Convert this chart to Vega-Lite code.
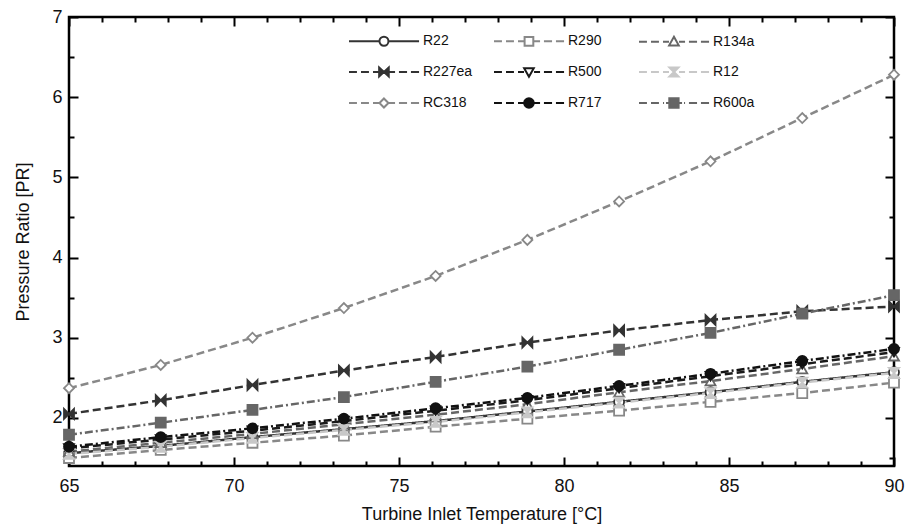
{
  "$schema": "https://vega.github.io/schema/vega-lite/v6.json",
  "width": 825,
  "height": 449,
  "autosize": {"type": "none"},
  "padding": {"left": 69, "top": 17, "right": 12, "bottom": 64},
  "background": "white",
  "config": {
    "view": {"stroke": "#000000", "strokeWidth": 2.5},
    "font": "Liberation Sans",
    "axis": {
      "domain": false,
      "ticks": false,
      "gridColor": "#000000",
      "gridWidth": 2,
      "gridOpacity": 1,
      "labelFont": "Liberation Sans",
      "labelFontSize": 18,
      "labelColor": "#111111",
      "titleFont": "Liberation Sans",
      "titleFontSize": 18,
      "titleFontWeight": "normal",
      "titleColor": "#111111"
    }
  },
  "data": {
    "values": [
      {"refrigerant": "R22", "T": 65, "PR": 1.56}, {"refrigerant": "R22", "T": 67.78, "PR": 1.65}, {"refrigerant": "R22", "T": 70.56, "PR": 1.76}, {"refrigerant": "R22", "T": 73.33, "PR": 1.86}, {"refrigerant": "R22", "T": 76.11, "PR": 1.96}, {"refrigerant": "R22", "T": 78.89, "PR": 2.08}, {"refrigerant": "R22", "T": 81.67, "PR": 2.20}, {"refrigerant": "R22", "T": 84.44, "PR": 2.32}, {"refrigerant": "R22", "T": 87.22, "PR": 2.45}, {"refrigerant": "R22", "T": 90, "PR": 2.57},
      {"refrigerant": "R290", "T": 65, "PR": 1.50}, {"refrigerant": "R290", "T": 67.78, "PR": 1.60}, {"refrigerant": "R290", "T": 70.56, "PR": 1.69}, {"refrigerant": "R290", "T": 73.33, "PR": 1.78}, {"refrigerant": "R290", "T": 76.11, "PR": 1.89}, {"refrigerant": "R290", "T": 78.89, "PR": 1.99}, {"refrigerant": "R290", "T": 81.67, "PR": 2.09}, {"refrigerant": "R290", "T": 84.44, "PR": 2.20}, {"refrigerant": "R290", "T": 87.22, "PR": 2.31}, {"refrigerant": "R290", "T": 90, "PR": 2.44},
      {"refrigerant": "R134a", "T": 65, "PR": 1.58}, {"refrigerant": "R134a", "T": 67.78, "PR": 1.69}, {"refrigerant": "R134a", "T": 70.56, "PR": 1.80}, {"refrigerant": "R134a", "T": 73.33, "PR": 1.92}, {"refrigerant": "R134a", "T": 76.11, "PR": 2.04}, {"refrigerant": "R134a", "T": 78.89, "PR": 2.17}, {"refrigerant": "R134a", "T": 81.67, "PR": 2.32}, {"refrigerant": "R134a", "T": 84.44, "PR": 2.46}, {"refrigerant": "R134a", "T": 87.22, "PR": 2.61}, {"refrigerant": "R134a", "T": 90, "PR": 2.77},
      {"refrigerant": "R227ea", "T": 65, "PR": 2.05}, {"refrigerant": "R227ea", "T": 67.78, "PR": 2.22}, {"refrigerant": "R227ea", "T": 70.56, "PR": 2.41}, {"refrigerant": "R227ea", "T": 73.33, "PR": 2.59}, {"refrigerant": "R227ea", "T": 76.11, "PR": 2.76}, {"refrigerant": "R227ea", "T": 78.89, "PR": 2.94}, {"refrigerant": "R227ea", "T": 81.67, "PR": 3.09}, {"refrigerant": "R227ea", "T": 84.44, "PR": 3.22}, {"refrigerant": "R227ea", "T": 87.22, "PR": 3.33}, {"refrigerant": "R227ea", "T": 90, "PR": 3.39},
      {"refrigerant": "R500", "T": 65, "PR": 1.62}, {"refrigerant": "R500", "T": 67.78, "PR": 1.73}, {"refrigerant": "R500", "T": 70.56, "PR": 1.84}, {"refrigerant": "R500", "T": 73.33, "PR": 1.96}, {"refrigerant": "R500", "T": 76.11, "PR": 2.09}, {"refrigerant": "R500", "T": 78.89, "PR": 2.22}, {"refrigerant": "R500", "T": 81.67, "PR": 2.37}, {"refrigerant": "R500", "T": 84.44, "PR": 2.52}, {"refrigerant": "R500", "T": 87.22, "PR": 2.67}, {"refrigerant": "R500", "T": 90, "PR": 2.82},
      {"refrigerant": "R12", "T": 65, "PR": 1.55}, {"refrigerant": "R12", "T": 67.78, "PR": 1.64}, {"refrigerant": "R12", "T": 70.56, "PR": 1.75}, {"refrigerant": "R12", "T": 73.33, "PR": 1.85}, {"refrigerant": "R12", "T": 76.11, "PR": 1.95}, {"refrigerant": "R12", "T": 78.89, "PR": 2.07}, {"refrigerant": "R12", "T": 81.67, "PR": 2.19}, {"refrigerant": "R12", "T": 84.44, "PR": 2.31}, {"refrigerant": "R12", "T": 87.22, "PR": 2.44}, {"refrigerant": "R12", "T": 90, "PR": 2.56},
      {"refrigerant": "RC318", "T": 65, "PR": 2.37}, {"refrigerant": "RC318", "T": 67.78, "PR": 2.66}, {"refrigerant": "RC318", "T": 70.56, "PR": 3.00}, {"refrigerant": "RC318", "T": 73.33, "PR": 3.37}, {"refrigerant": "RC318", "T": 76.11, "PR": 3.77}, {"refrigerant": "RC318", "T": 78.89, "PR": 4.22}, {"refrigerant": "RC318", "T": 81.67, "PR": 4.70}, {"refrigerant": "RC318", "T": 84.44, "PR": 5.20}, {"refrigerant": "RC318", "T": 87.22, "PR": 5.74}, {"refrigerant": "RC318", "T": 90, "PR": 6.28},
      {"refrigerant": "R717", "T": 65, "PR": 1.64}, {"refrigerant": "R717", "T": 67.78, "PR": 1.76}, {"refrigerant": "R717", "T": 70.56, "PR": 1.87}, {"refrigerant": "R717", "T": 73.33, "PR": 1.99}, {"refrigerant": "R717", "T": 76.11, "PR": 2.12}, {"refrigerant": "R717", "T": 78.89, "PR": 2.25}, {"refrigerant": "R717", "T": 81.67, "PR": 2.40}, {"refrigerant": "R717", "T": 84.44, "PR": 2.55}, {"refrigerant": "R717", "T": 87.22, "PR": 2.71}, {"refrigerant": "R717", "T": 90, "PR": 2.86},
      {"refrigerant": "R600a", "T": 65, "PR": 1.79}, {"refrigerant": "R600a", "T": 67.78, "PR": 1.94}, {"refrigerant": "R600a", "T": 70.56, "PR": 2.10}, {"refrigerant": "R600a", "T": 73.33, "PR": 2.26}, {"refrigerant": "R600a", "T": 76.11, "PR": 2.45}, {"refrigerant": "R600a", "T": 78.89, "PR": 2.64}, {"refrigerant": "R600a", "T": 81.67, "PR": 2.85}, {"refrigerant": "R600a", "T": 84.44, "PR": 3.06}, {"refrigerant": "R600a", "T": 87.22, "PR": 3.30}, {"refrigerant": "R600a", "T": 90, "PR": 3.53}
    ]
  },
  "layer": [
    {
      "mark": {"type": "line", "strokeWidth": 2.5},
      "encoding": {
        "x": {
          "field": "T", "type": "quantitative",
          "scale": {"domain": [65, 90], "nice": false, "zero": false},
          "axis": {
            "orient": "bottom",
            "title": "Turbine Inlet Temperature [°C]",
            "titlePadding": 10,
            "values": [65, 70, 75, 80, 85, 90],
            "format": "d",
            "grid": true,
            "gridDash": [9, 431],
            "labelPadding": 11,
            "labelFlush": false,
            "labelOverlap": false
          }
        },
        "y": {
          "field": "PR", "type": "quantitative",
          "scale": {"domain": [1.4, 7], "nice": false, "zero": false},
          "axis": {
            "orient": "left",
            "title": "Pressure Ratio [PR]",
            "titlePadding": 19,
            "values": [2, 3, 4, 5, 6, 7],
            "format": "d",
            "grid": true,
            "gridDash": [9, 807],
            "labelPadding": 7,
            "labelFlush": false,
            "labelOverlap": false
          }
        },
        "stroke": {
          "field": "refrigerant", "type": "nominal",
          "scale": {
            "domain": ["R22", "R290", "R134a", "R227ea", "R500", "R12", "RC318", "R717", "R600a"],
            "range": ["#333333", "#888888", "#666666", "#333333", "#1a1a1a", "#c8c8c8", "#888888", "#111111", "#666666"]
          },
          "legend": {
            "title": null,
            "orient": "none",
            "direction": "horizontal",
            "legendX": 279,
            "legendY": 8,
            "columns": 3,
            "gridAlign": "all",
            "columnPadding": 17,
            "rowPadding": 6,
            "padding": 0,
            "symbolSize": 900,
            "symbolStrokeWidth": 2,
            "labelOffset": 43,
            "labelFont": "Liberation Sans",
            "labelFontSize": 14,
            "labelColor": "#111111",
            "encode": {
              "symbols": {
                "update": {
                  "shape": {"signal": "({'R22': 'M-1,0L1.0,0M1.66,0L3.67,0M1.63,0A0.3,0.3,0,1,1,1.03,0A0.3,0.3,0,1,1,1.63,0Z', 'R290': 'M-1,0L-0.47,0M-0.2,0L0.33,0M0.6,0L1.0,0M1.67,0L2.07,0M2.33,0L2.87,0M3.13,0L3.67,0M1.04,-0.29L1.62,-0.29L1.62,0.29L1.04,0.29Z', 'R134a': 'M-1,0L-0.47,0M-0.2,0L0.33,0M0.6,0L1.0,0M1.67,0L2.07,0M2.33,0L2.87,0M3.13,0L3.67,0M1.33,-0.32L1.65,0.25L1.01,0.25Z', 'R227ea': 'M-1,0L-0.47,0M-0.2,0L0.33,0M0.6,0L1.0,0M1.67,0L2.07,0M2.33,0L2.87,0M3.13,0L3.67,0M1.01,-0.3L1.33,0L1.01,0.3ZM1.65,-0.3L1.33,0L1.65,0.3Z', 'R500': 'M-1,0L-0.47,0M-0.2,0L0.33,0M0.6,0L1.0,0M1.67,0L2.07,0M2.33,0L2.87,0M3.13,0L3.67,0M1.33,0.32L1.65,-0.25L1.01,-0.25Z', 'R12': 'M-1,0L-0.47,0M-0.2,0L0.33,0M0.6,0L1.0,0M1.67,0L2.07,0M2.33,0L2.87,0M3.13,0L3.67,0M1.03,-0.3L1.63,-0.3L1.33,0ZM1.03,0.3L1.63,0.3L1.33,0Z', 'RC318': 'M-1,0L-0.47,0M-0.2,0L0.33,0M0.6,0L1.0,0M1.67,0L2.07,0M2.33,0L2.87,0M3.13,0L3.67,0M1.33,-0.3L1.63,0L1.33,0.3L1.03,0Z', 'R717': 'M-1,0L-0.47,0M-0.2,0L0.33,0M0.6,0L1.0,0M1.67,0L2.07,0M2.33,0L2.87,0M3.13,0L3.67,0M1.65,0A0.32,0.32,0,1,1,1.01,0A0.32,0.32,0,1,1,1.65,0Z', 'R600a': 'M-1,0L-0.47,0M-0.2,0L0.33,0M0.6,0L0.67,0M0.8,0L1.0,0M1.67,0L1.87,0M2.0,0L2.07,0M2.33,0L2.87,0M3.13,0L3.67,0M1.02,-0.31L1.64,-0.31L1.64,0.31L1.02,0.31Z'})[datum.value]"},
                  "fill": {"signal": "({'R22': '#ffffff', 'R290': '#ffffff', 'R134a': '#ffffff', 'R227ea': '#333333', 'R500': '#ffffff', 'R12': '#c8c8c8', 'RC318': '#ffffff', 'R717': '#111111', 'R600a': '#666666'})[datum.value]"},
                  "strokeDash": {"value": []},
                  "strokeWidth": {"value": 2},
                  "opacity": {"value": 1}
                }
              }
            }
          }
        },
        "strokeDash": {
          "field": "refrigerant", "type": "nominal",
          "scale": {
            "domain": ["R600a", "R717", "RC318", "R12", "R500", "R227ea", "R134a", "R290", "R22"],
            "range": [[8, 3, 2, 3], [8, 3, 2, 3], [8, 4], [8, 4], [8, 4], [8, 4], [8, 4], [8, 4], [1, 0]]
          },
          "legend": null
        }
      }
    },
    {
      "mark": {"type": "point", "filled": true, "size": 100, "strokeWidth": 1.8, "opacity": 1},
      "encoding": {
        "x": {"field": "T", "type": "quantitative", "axis": null},
        "y": {"field": "PR", "type": "quantitative", "axis": null},
        "stroke": {"field": "refrigerant", "type": "nominal", "legend": null},
        "fill": {
          "field": "refrigerant", "type": "nominal",
          "scale": {
            "domain": ["R600a", "R717", "RC318", "R12", "R500", "R227ea", "R134a", "R290", "R22"],
            "range": ["#666666", "#111111", "#ffffff", "#c8c8c8", "#ffffff", "#333333", "#ffffff", "#ffffff", "#ffffff"]
          },
          "legend": null
        },
        "shape": {
          "field": "refrigerant", "type": "nominal",
          "scale": {
            "domain": ["R600a", "R717", "RC318", "R12", "R500", "R227ea", "R134a", "R290", "R22"],
            "range": ["square", "circle", "diamond", "M-1,-1L1,-1L0,0ZM-1,1L1,1L0,0Z", "triangle-down", "M-1,-1L0,0L-1,1ZM1,-1L0,0L1,1Z", "triangle-up", "square", "circle"]
          },
          "legend": null
        }
      }
    },
    {
      "mark": {"type": "point", "opacity": 0},
      "encoding": {
        "x": {
          "field": "T", "type": "quantitative",
          "axis": {"orient": "bottom", "title": null, "labels": false, "grid": true, "gridDash": [5, 439], "values": [66, 67, 68, 69, 71, 72, 73, 74, 76, 77, 78, 79, 81, 82, 83, 84, 86, 87, 88, 89]}
        },
        "y": {
          "field": "PR", "type": "quantitative",
          "axis": {"orient": "left", "title": null, "labels": false, "grid": true, "gridDash": [5, 815], "values": [1.5, 2.5, 3.5, 4.5, 5.5, 6.5]}
        }
      }
    }
  ],
  "resolve": {"axis": {"x": "independent", "y": "independent"}}
}
